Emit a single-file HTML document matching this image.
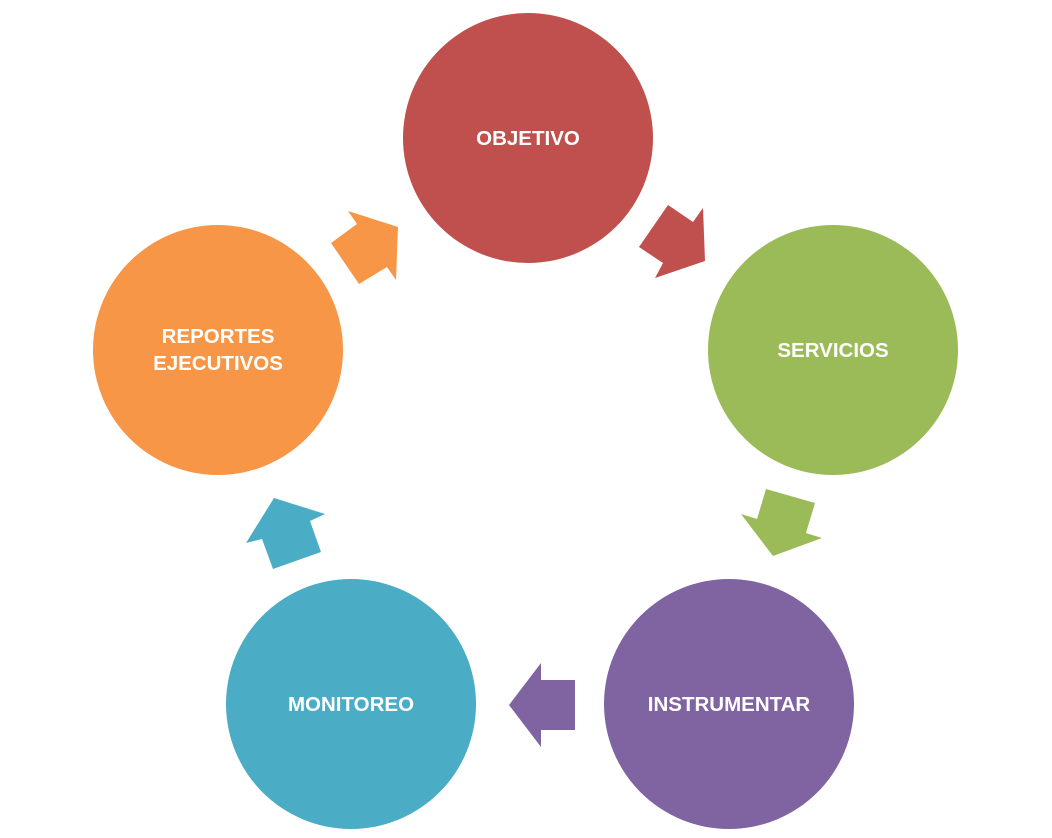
<!DOCTYPE html>
<html><head><style>html,body{margin:0;padding:0;background:#fff;}</style></head>
<body>
<svg width="1052" height="838" viewBox="0 0 1052 838" xmlns="http://www.w3.org/2000/svg" style="display:block">
<g font-family="Liberation Sans, sans-serif" font-weight="bold" font-size="20.5" fill="#fff" text-anchor="middle">
<circle cx="528" cy="138" r="125" fill="#C0504D"/>
<circle cx="833" cy="350" r="125" fill="#9BBB59"/>
<circle cx="729" cy="704" r="125" fill="#8064A2"/>
<circle cx="351" cy="704" r="125" fill="#4BACC6"/>
<circle cx="218" cy="350" r="125" fill="#F79646"/>
<polygon fill="#C0504D" points="668,205 693,222 703,208 705,261 655,278 663,263 639,247"/>
<polygon fill="#9BBB59" points="766,489 815,503 806,533 822,538 773,556 741,514 757,519"/>
<polygon fill="#8064A2" points="575,680 541,680 541,663 509,705 541,747 541,730 575,730"/>
<polygon fill="#4BACC6" points="274,498 325,514 310,521 321,552 273,569 262,539 246,543"/>
<polygon fill="#F79646" points="348,211 398,227 396,280 387,267 359,284 331,243 357,224"/>
<text x="528" y="145">OBJETIVO</text>
<text x="833" y="357">SERVICIOS</text>
<text x="729" y="711">INSTRUMENTAR</text>
<text x="351" y="711">MONITOREO</text>
<text x="218" y="343">REPORTES</text>
<text x="218" y="370">EJECUTIVOS</text>
</g>
</svg>
</body></html>
